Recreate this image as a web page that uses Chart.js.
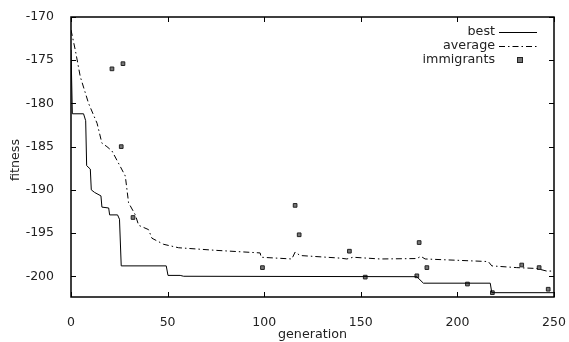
<!DOCTYPE html>
<html>
<head>
<meta charset="utf-8">
<script src="https://cdn.jsdelivr.net/npm/chart.js@4"></script>
<style>
  html, body { margin: 0; padding: 0; background: #fff; }
  #wrap { width: 569px; height: 342px; position: relative; }
</style>
</head>
<body>
<div id="wrap"><canvas id="chart"></canvas></div>
<script>
  // Data
  const bestGen = [0, 0.7, 6.5, 7.6, 8.1, 10, 10.5, 12.2, 15.5, 16, 19.5, 20, 24.1, 25.1, 26, 49.3, 50.2, 56.5, 58.3, 179, 182.4, 217, 217.8, 250];
  const bestFit = [-173.8, -181.2, -181.2, -182, -187.2, -187.6, -190.0, -190.3, -190.7, -192.0, -192.1, -192.9, -192.9, -193.4, -198.8, -198.8, -199.9, -199.9, -200.0, -200.05, -200.8, -200.8, -201.9, -201.9];

  const avgGen = [0, 2.2, 4.8, 9.1, 13.5, 16, 18.6, 21.2, 25.5, 28.1, 29.8, 33.3, 35, 40.1, 41.9, 47.9, 55.7, 75, 97.9, 98.4, 114.3, 116, 118.6, 139.3, 142.8, 146, 160, 179, 181.1, 183.3, 216, 217.8, 230.7, 241, 246.2, 250];
  const avgFit = [-171.5, -173.8, -176.9, -180.0, -182.3, -184.6, -185.0, -185.5, -187.3, -188.4, -191.5, -192.9, -194.1, -194.6, -195.6, -196.3, -196.7, -197.0, -197.3, -197.8, -198.0, -197.2, -197.6, -197.9, -198.0, -197.8, -198.0, -197.95, -197.7, -198.0, -198.3, -198.8, -199.0, -199.1, -199.4, -199.4];

  const immGen = [21.2, 26.9, 26, 32.1, 99.1, 116, 118.1, 144.1, 152.3, 180.2, 179, 184.2, 205.2, 218.1, 233.3, 242.3, 247];
  const immFit = [-176.0, -175.4, -185.0, -193.2, -199.0, -191.8, -195.2, -197.1, -200.1, -196.1, -199.95, -199.0, -200.9, -201.9, -198.7, -199.0, -201.5];

  const xTicks = [0, 50, 100, 150, 200, 250];
  const yTicks = [-200, -195, -190, -185, -180, -175, -170];

  const FAMILY = '"DejaVu Sans", sans-serif';
  const FONT = '12.7px ' + FAMILY;
  const INK = '#222';
  const AVG_DASH = [6, 3, 1.5, 3];

  const toPoints = (xs, ys) => xs.map((x, i) => ({ x, y: ys[i] }));

  // gnuplot-like frame: border box, inward + mirrored ticks, titles, legend
  const gnuFrame = {
    id: 'gnuFrame',
    afterDatasetsDraw(chart) {
      const { ctx, chartArea: a, scales } = chart;
      const tl = 5;
      ctx.save();
      ctx.strokeStyle = '#000';
      ctx.lineWidth = 1;
      ctx.beginPath();
      xTicks.forEach(v => {
        const px = Math.round(scales.x.getPixelForValue(v)) + 0.5;
        ctx.moveTo(px, a.bottom); ctx.lineTo(px, a.bottom - tl);
        ctx.moveTo(px, a.top); ctx.lineTo(px, a.top + tl);
      });
      yTicks.forEach(v => {
        const py = Math.round(scales.y.getPixelForValue(v)) + 0.5;
        ctx.moveTo(a.left, py); ctx.lineTo(a.left + tl, py);
        ctx.moveTo(a.right, py); ctx.lineTo(a.right - tl, py);
      });
      ctx.stroke();
      ctx.lineWidth = 1.5;
      ctx.strokeRect(a.left, a.top, a.right - a.left, a.bottom - a.top);

      // axis titles
      ctx.fillStyle = INK;
      ctx.font = FONT;
      ctx.textAlign = 'center';
      ctx.textBaseline = 'middle';
      ctx.fillText('generation', (a.left + a.right) / 2, 335);
      ctx.save();
      ctx.translate(16, (a.top + a.bottom) / 2 + 3);
      ctx.rotate(-Math.PI / 2);
      ctx.fillText('fitness', 0, 0);
      ctx.restore();

      // legend
      const rows = [32, 46, 60];
      const tx = 495, l0 = 499, l1 = 537;
      chart.data.datasets.forEach((ds, i) => {
        const y = rows[i];
        ctx.textAlign = 'right';
        ctx.fillStyle = INK;
        ctx.fillText(ds.label, tx, y);
        if (ds.showLine === false) {
          const cx = (l0 + l1) / 2 + 2;
          ctx.fillStyle = '#777';
          ctx.fillRect(cx - 2.5, y - 2.5, 5, 5);
          ctx.strokeStyle = '#222';
          ctx.lineWidth = 1;
          ctx.strokeRect(cx - 2.5, y - 2.5, 5, 5);
        } else {
          ctx.strokeStyle = '#000';
          ctx.lineWidth = 1;
          ctx.setLineDash(ds.borderDash || []);
          ctx.beginPath();
          ctx.moveTo(l0, y + 0.5); ctx.lineTo(l1, y + 0.5);
          ctx.stroke();
          ctx.setLineDash([]);
        }
      });
      ctx.restore();
    }
  };

  new Chart(document.getElementById('chart'), {
    type: 'scatter',
    data: {
      datasets: [
        {
          label: 'best',
          data: toPoints(bestGen, bestFit),
          showLine: true,
          borderColor: '#000',
          borderWidth: 1,
          pointRadius: 0,
          tension: 0,
        },
        {
          label: 'average',
          data: toPoints(avgGen, avgFit),
          showLine: true,
          borderColor: '#000',
          borderWidth: 1,
          borderDash: AVG_DASH,
          pointRadius: 0,
          tension: 0,
        },
        {
          label: 'immigrants',
          data: toPoints(immGen, immFit),
          showLine: false,
          pointStyle: 'rect',
          pointRadius: 2.6,
          backgroundColor: '#777',
          borderColor: '#222',
          borderWidth: 1,
        },
      ],
    },
    options: {
      responsive: true,
      maintainAspectRatio: false,
      animation: false,
      layout: { padding: { top: 17, right: 15, left: 0, bottom: 0 } },
      plugins: { legend: { display: false }, tooltip: { enabled: false } },
      scales: {
        x: {
          type: 'linear',
          min: 0,
          max: 250,
          grid: { display: false },
          border: { display: false },
          afterBuildTicks: s => { s.ticks = xTicks.map(v => ({ value: v })); },
          afterFit: s => { s.height = 45; s.paddingLeft = 0; s.paddingRight = 0; },
          ticks: { color: INK, font: { family: FAMILY, size: 12.5 }, padding: 10, maxRotation: 0 },
        },
        y: {
          type: 'linear',
          min: -202.4,
          max: -170,
          grid: { display: false },
          border: { display: false },
          afterBuildTicks: s => { s.ticks = yTicks.map(v => ({ value: v })); },
          afterFit: s => { s.width = 71; s.paddingTop = 0; s.paddingBottom = 0; },
          ticks: { color: INK, font: { family: FAMILY, size: 12.5 }, padding: 9 },
        },
      },
    },
    plugins: [gnuFrame],
  });
</script>
</body>
</html>
